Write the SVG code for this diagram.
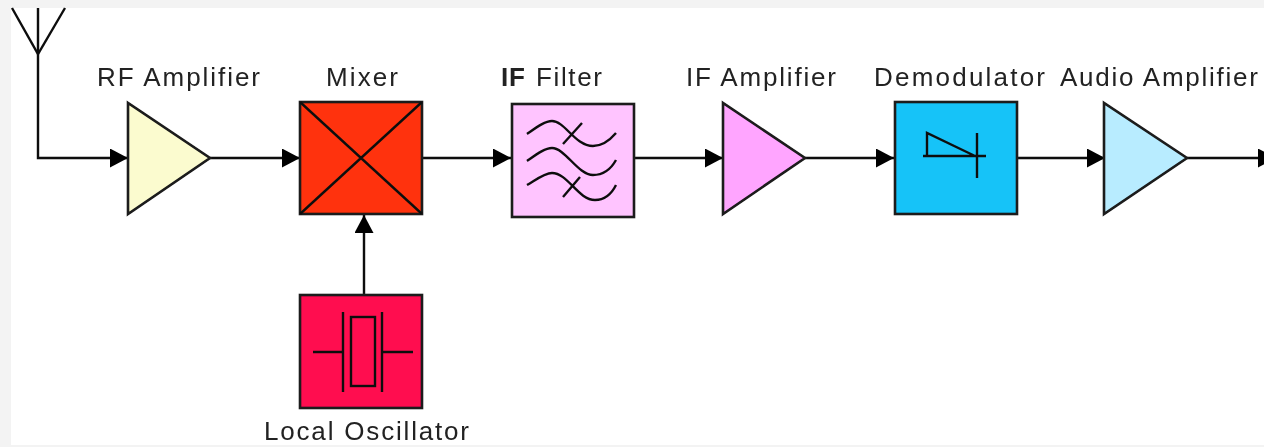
<svg xmlns="http://www.w3.org/2000/svg" width="1264" height="447" viewBox="0 0 1264 447">
<style>
.s{stroke:#111;stroke-width:2.4;fill:none}
.n{stroke:#1a1a1a;stroke-width:2.6}
.t{font-family:"Liberation Sans",Arial,sans-serif;font-size:26px;fill:#222}
</style>
<defs>
<filter id="b" filterUnits="userSpaceOnUse" x="0" y="0" width="1264" height="447"><feGaussianBlur stdDeviation="0.7"/></filter>
<marker id="a" markerUnits="userSpaceOnUse" markerWidth="19" markerHeight="20" refX="18" refY="9.5" orient="auto"><path d="M0 0L18 9.5L0 19Z" fill="#000"/></marker>
</defs>
<rect width="1264" height="447" fill="#f3f3f3"/>
<rect x="11" y="8" width="1253" height="437" fill="#fff"/>
<g filter="url(#b)">
<g id="connectors" class="s">
<path d="M38 8V158H128" marker-end="url(#a)"/>
<path d="M210 158H300" marker-end="url(#a)"/>
<path d="M422 158H511" marker-end="url(#a)"/>
<path d="M634 158H723" marker-end="url(#a)"/>
<path d="M805 158H894" marker-end="url(#a)"/>
<path d="M1017 158H1105" marker-end="url(#a)"/>
<path d="M1187 158H1276" marker-end="url(#a)"/>
<path d="M364 295V215" marker-end="url(#a)"/>
</g>
<g id="antenna" class="s"><path d="M12 8L38 54L65 8"/></g>
<g id="rf-amplifier">
<path class="n" d="M128 103V214L210 158Z" fill="#fbfbcf"/>
<text class="t" x="97" y="86" textLength="163" lengthAdjust="spacing">RF Amplifier</text>
</g>
<g id="mixer">
<rect class="n" x="300" y="102" width="122" height="112" fill="#ff330a"/>
<path class="s" d="M300 102L422 214M422 102L300 214"/>
<text class="t" x="326" y="86" textLength="72" lengthAdjust="spacing">Mixer</text>
</g>
<g id="if-filter">
<rect class="n" x="512" y="104" width="122" height="113" fill="#ffc4ff"/>
<path class="s" d="M527 134C537 127 545 121 552 121C565 121 575 146 593 146C603 146 610 140 616 133M582 123L563 144M527 161C537 154 545 148 552 148C565 148 578 175 593 175C603 175 611 169 616 160M527 185C537 179 545 173 552 173C568 173 578 200 595 200C604 200 611 195 616 185M580 177L563 197"/>
<text class="t" x="501" y="86" font-weight="700" textLength="24" lengthAdjust="spacing">IF</text>
<text class="t" x="536" y="86" textLength="66" lengthAdjust="spacing">Filter</text>
</g>
<g id="if-amplifier">
<path class="n" d="M723 103V214L805 158Z" fill="#ffa5ff"/>
<text class="t" x="686" y="86" textLength="150" lengthAdjust="spacing">IF Amplifier</text>
</g>
<g id="demodulator">
<rect class="n" x="895" y="102" width="122" height="112" fill="#14c3f8"/>
<path class="s" d="M923 156H986M927 156V133L975 156M977 133V178"/>
<text class="t" x="874" y="86" textLength="171" lengthAdjust="spacing">Demodulator</text>
</g>
<g id="audio-amplifier">
<path class="n" d="M1104 103V214L1187 158Z" fill="#b8ecff"/>
<text class="t" x="1060" y="86" textLength="198" lengthAdjust="spacing">Audio Amplifier</text>
</g>
<g id="local-oscillator">
<rect class="n" x="300" y="295" width="122" height="113" fill="#ff0a50"/>
<path class="s" d="M313 352H342M343 312V392M382 312V392M383 352H413"/>
<rect class="s" x="351" y="317" width="24" height="69"/>
<text class="t" x="264" y="440" textLength="205" lengthAdjust="spacing">Local Oscillator</text>
</g>
</g>
</svg>
